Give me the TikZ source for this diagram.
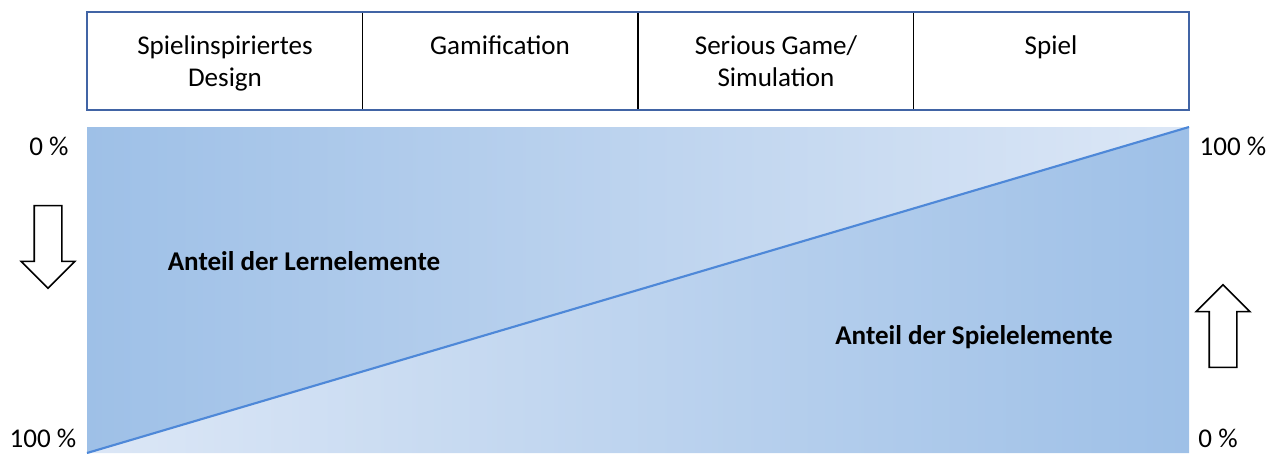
\documentclass[tikz,border=0pt]{standalone}
\usepackage{fontspec}
\setmainfont{Carlito}
\usetikzlibrary{positioning}
\usetikzlibrary{shapes.arrows}
\definecolor{framblue}{RGB}{65, 100, 165}
\definecolor{lineblue}{RGB}{78, 136, 216}
\definecolor{shdark}{RGB}{158, 192, 231}
\definecolor{shlight}{RGB}{220, 231, 246}

\begin{document}
\begin{tikzpicture}[x=0.75pt,y=-0.75pt,
  hdr/.style={rectangle,draw=black,line width=1pt,outer sep=0pt,
    minimum width=206.6pt,minimum height=73.5pt},
  htxt/.style={anchor=base,align=center,font=\fontsize{20.3}{23.5}\selectfont},
  pct/.style={anchor=base,font=\fontsize{20.3}{24}\selectfont},
  share/.style={anchor=base,font=\fontsize{20.3}{24}\selectfont\bfseries},
  barr/.style={single arrow,draw=black,fill=white,line width=1.2pt,
    inner sep=9.75pt,single arrow head extend=9.75pt,
    minimum width=39pt,minimum height=62pt},
  diag/.style={lineblue,line width=1.6pt}
]
  \useasboundingbox (0,0) rectangle (1276,453);
  % triangles
  \coordinate (tl) at (87,127);
  \coordinate (tr) at (1189,127);
  \coordinate (bl) at (87,453);
  \coordinate (br) at (1189,453);
  \shade[left color=shdark,right color=shlight] (tl) -- (tr) -- (bl) -- cycle;
  \shade[left color=shlight,right color=shdark] (bl) -- (tr) -- (br) -- cycle;
  \draw[diag] (bl) -- (tr);
  % header
  \node[hdr,anchor=north west] (b1) at (87,12) {};
  \node[hdr,right=0pt of b1] (b2) {};
  \node[hdr,right=0pt of b2] (b3) {};
  \node[hdr,right=0pt of b3] (b4) {};
  \draw[framblue,line width=1.5pt] (b1.north west) rectangle (b4.south east);
  \node[htxt] (t1) at (225,86) {Spielinspiriertes\\Design};
  \node[htxt] (t2) at (500,55) {Gamification};
  \node[htxt] (t3) at (776,86) {Serious Game/\\Simulation};
  \node[htxt] (t4) at (1051,55) {Spiel};
  % shares
  \node[share] (lern) at (304,270) {Anteil der Lernelemente};
  \node[share] (spiel) at (974,344) {Anteil der Spielelemente};
  % scale
  \node[pct] (l0) at (49,155) {0 \%};
  \node[pct] (l100) at (43,447) {100 \%};
  \node[pct] (r100) at (1233,155) {100 \%};
  \node[pct] (r0) at (1218,447) {0 \%};
  \node[barr,shape border rotate=270] (down) at (48,240) {};
  \node[barr,shape border rotate=90] (up) at (1223,333) {};
\end{tikzpicture}
\end{document}
